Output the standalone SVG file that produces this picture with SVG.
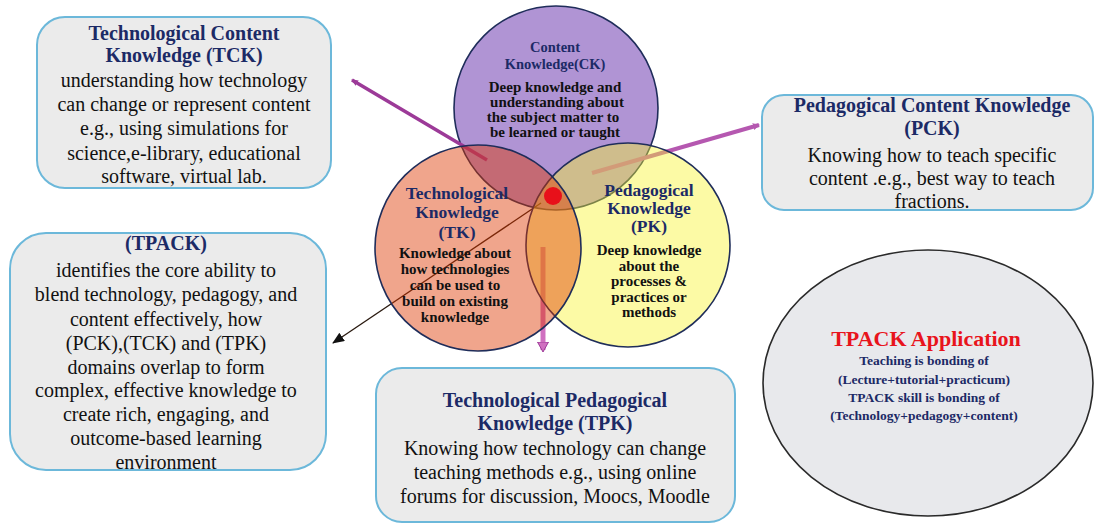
<svg xmlns="http://www.w3.org/2000/svg" width="1095" height="525" viewBox="0 0 1095 525">
<style>
.box{fill:#ebebeb;stroke:#6cb8da;stroke-width:2}
.t{font-family:"Liberation Serif","Times New Roman",serif;text-anchor:middle}
.tt{font-weight:bold;fill:#1c2a66;font-size:20px}
.tb{fill:#111;font-size:20px}
.ct{font-weight:bold;fill:#1c2a66}
.cb{font-weight:bold;fill:#111;font-size:15px}
.circ{stroke:#1f2d5a;stroke-width:1.6}
</style>
<defs>
<marker id="arPurple" markerUnits="userSpaceOnUse" markerWidth="10" markerHeight="10" refX="6" refY="4" orient="auto"><path d="M0,1 L7,4 L0,7 z" fill="#9c3a98"/></marker>
<marker id="arPink" markerUnits="userSpaceOnUse" markerWidth="10" markerHeight="10" refX="6" refY="4" orient="auto"><path d="M0,0.5 L7,4 L0,7.5 z" fill="#b558b0"/></marker>
<marker id="arBlack" markerUnits="userSpaceOnUse" markerWidth="14" markerHeight="12" refX="11" refY="5" orient="auto"><path d="M0,0 L12,5 L0,10 z" fill="#111"/></marker>
<marker id="arDown" markerUnits="userSpaceOnUse" markerWidth="14" markerHeight="12" refX="8" refY="6" orient="auto"><path d="M0,0.5 L10,6 L0,11.5 z" fill="#d070c0" stroke="#9c3a98" stroke-width="1"/></marker>
</defs>

<g id="tck">
<rect class="box" x="37" y="17" width="294" height="171" rx="28"/>
<text class="t tt" x="184" y="40">Technological Content</text>
<text class="t tt" x="184" y="62">Knowledge (TCK)</text>
<text class="t tb" x="184" y="87">understanding how technology</text>
<text class="t tb" x="184" y="111">can change or represent content</text>
<text class="t tb" x="184" y="135">e.g., using simulations for</text>
<text class="t tb" x="184" y="160">science,e-library, educational</text>
<text class="t tb" x="184" y="183">software, virtual lab.</text>
</g>

<g id="pck">
<rect class="box" x="762" y="95" width="331" height="115" rx="22"/>
<text class="t tt" x="932" y="112">Pedagogical Content Knowledge</text>
<text class="t tt" x="932" y="135">(PCK)</text>
<text class="t tb" x="932" y="162">Knowing how to teach specific</text>
<text class="t tb" x="932" y="185">content .e.g., best way to teach</text>
<text class="t tb" x="932" y="208">fractions.</text>
</g>

<g id="tpack">
<rect class="box" x="10" y="233" width="316" height="237" rx="36"/>
<text class="t tt" x="166" y="250">(TPACK)</text>
<text class="t tb" x="166" y="277">identifies the core ability to</text>
<text class="t tb" x="166" y="301">blend technology, pedagogy, and</text>
<text class="t tb" x="166" y="326">content effectively, how</text>
<text class="t tb" x="166" y="350">(PCK),(TCK) and (TPK)</text>
<text class="t tb" x="166" y="374">domains overlap to form</text>
<text class="t tb" x="166" y="397">complex, effective knowledge to</text>
<text class="t tb" x="166" y="421">create rich, engaging, and</text>
<text class="t tb" x="166" y="445">outcome-based learning</text>
<text class="t tb" x="166" y="469">environment</text>
</g>

<g id="tpk">
<rect class="box" x="376" y="368" width="359" height="154" rx="26"/>
<text class="t tt" x="555" y="407">Technological Pedagogical</text>
<text class="t tt" x="555" y="430">Knowledge (TPK)</text>
<text class="t tb" x="555" y="455">Knowing how technology can change</text>
<text class="t tb" x="555" y="479">teaching methods e.g., using online</text>
<text class="t tb" x="555" y="503">forums for discussion, Moocs, Moodle</text>
</g>

<g id="application">
<ellipse cx="928" cy="383" rx="165" ry="133" fill="#e8e9ec" stroke="#2a2a2a" stroke-width="1.6"/>
<text class="t" x="926" y="346" font-size="22" font-weight="bold" fill="#e8141c">TPACK Application</text>
<text class="t ct" x="924" y="365" font-size="13.5">Teaching is bonding of</text>
<text class="t ct" x="924" y="384" font-size="13.5">(Lecture+tutorial+practicum)</text>
<text class="t ct" x="924" y="402" font-size="13.5">TPACK skill is bonding of</text>
<text class="t ct" x="924" y="420" font-size="13.5">(Technology+pedagogy+content)</text>
</g>

<g id="ck">
<circle class="circ" cx="556" cy="108" r="102" fill="#b094d4"/>
</g>

<g id="connectors">
<line x1="487" y1="160" x2="352" y2="80" stroke="#9c3a98" stroke-width="3.5" marker-end="url(#arPurple)"/>
<line x1="592" y1="173" x2="759" y2="125" stroke="#b558b0" stroke-width="4" marker-end="url(#arPink)"/>
<line x1="541" y1="203" x2="333" y2="343" stroke="#2a1a10" stroke-width="1.3" marker-end="url(#arBlack)"/>
<line x1="543" y1="247" x2="543" y2="350" stroke="#d070c0" stroke-width="5" marker-end="url(#arDown)"/>
</g>

<g id="pk">
<circle class="circ" cx="628" cy="245" r="102" fill="rgb(248,243,46)" fill-opacity="0.43"/>
</g>

<g id="tk">
<circle class="circ" cx="478" cy="248" r="103" fill="rgb(222,55,0)" fill-opacity="0.45"/>
</g>

<g id="center-dot">
<circle cx="553" cy="196" r="9" fill="#e8101a"/>
</g>

<g id="ck-text">
<text class="t ct" x="555" y="52" font-size="14.5">Content</text>
<text class="t ct" x="555" y="69" font-size="14.5">Knowledge(CK)</text>
<text class="t cb" x="555" y="92">Deep knowledge and</text>
<text class="t cb" x="557" y="107">understanding about</text>
<text class="t cb" x="553" y="122">the subject matter to</text>
<text class="t cb" x="555" y="137">be learned or taught</text>
</g>

<g id="tk-text">
<text class="t ct" x="457" y="199" font-size="17.5">Technological</text>
<text class="t ct" x="457" y="218" font-size="17.5">Knowledge</text>
<text class="t ct" x="457" y="238" font-size="17.5">(TK)</text>
<text class="t cb" x="455" y="258">Knowledge about</text>
<text class="t cb" x="455" y="274">how technologies</text>
<text class="t cb" x="455" y="290">can be used to</text>
<text class="t cb" x="455" y="306">build on existing</text>
<text class="t cb" x="455" y="322">knowledge</text>
</g>

<g id="pk-text">
<text class="t ct" x="649" y="196" font-size="17.5">Pedagogical</text>
<text class="t ct" x="649" y="214" font-size="17.5">Knowledge</text>
<text class="t ct" x="649" y="232" font-size="17.5">(PK)</text>
<text class="t cb" x="649" y="255">Deep knowledge</text>
<text class="t cb" x="649" y="271">about the</text>
<text class="t cb" x="649" y="286">processes &amp;</text>
<text class="t cb" x="649" y="302">practices or</text>
<text class="t cb" x="649" y="317">methods</text>
</g>
</svg>
